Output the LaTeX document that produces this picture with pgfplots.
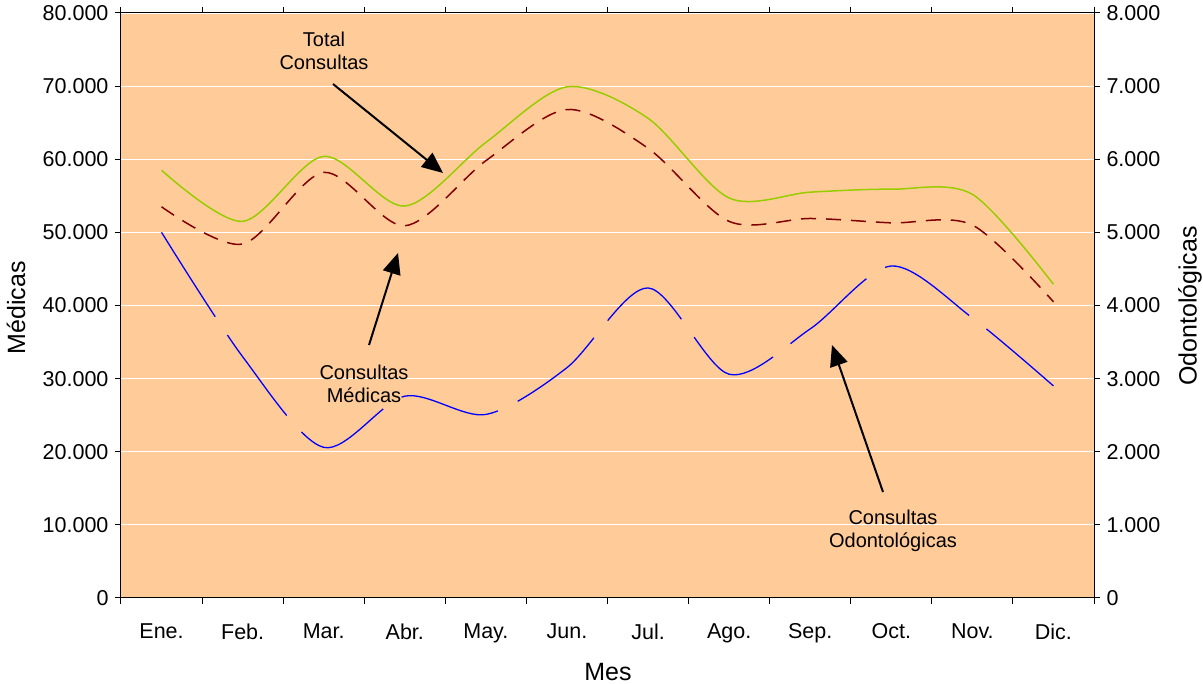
\documentclass[border=0pt]{standalone}
\usepackage{pgfplots}
\pgfplotsset{compat=1.18}
\usepackage{fontspec}
\setmainfont{Liberation Sans}
\usetikzlibrary{arrows.meta}
\definecolor{bgpeach}{RGB}{255,204,153}
\definecolor{totgreen}{RGB}{153,204,0}
\definecolor{medred}{RGB}{128,0,0}
\definecolor{odoblue}{RGB}{0,0,255}
\begin{document}
\begin{tikzpicture}[x=1pt,y=1pt]
\path[use as bounding box] (0,0) rectangle (1203,684);
\begin{axis}[
  at={(121pt,86pt)}, anchor=south west,
  width=973pt, height=585pt, scale only axis,
  xmin=-0.5, xmax=11.5, ymin=0, ymax=80000,
  axis background/.style={fill=bgpeach},
  axis line style={black, line width=1pt},
  tick style={black, line width=1pt},
  tick align=outside,
  major tick length=6pt, minor tick length=6pt,
  xtick={0,...,11},
  xticklabels={Ene.,Feb.,Mar.,Abr.,May.,Jun.,Jul.,Ago.,Sep.,Oct.,Nov.,Dic.},
  major x tick style={draw=none},
  minor xtick={-0.5,0.5,...,11.5},
  ytick={0,10000,...,80000},
  ymajorgrids, major grid style={white, line width=1.2pt},
  scaled y ticks=false,
  /pgf/number format/.cd, fixed, 1000 sep={.}, assume math mode=true,
  /pgfplots/.cd,
  tick label style={font=\fontsize{21.5}{25}\selectfont},
  xticklabel style={yshift=-16pt},
  yticklabel style={xshift=-3pt},
  clip=true,
]
\addplot[totgreen, line width=1.5pt, smooth] coordinates {
  (0,58500) (1,51500) (2,60400) (3,53600) (4,62300) (5,69900)
  (6,65600) (7,54700) (8,55500) (9,55900) (10,55200) (11,42900)};
\addplot[medred, line width=1.5pt, smooth, dash pattern=on 15pt off 10pt] coordinates {
  (0,53500) (1,48400) (2,58200) (3,50900) (4,59800) (5,66800)
  (6,61500) (7,51500) (8,51900) (9,51300) (10,51000) (11,40500)};
\end{axis}
\begin{axis}[
  at={(121pt,86pt)}, anchor=south west,
  width=973pt, height=585pt, scale only axis,
  xmin=-0.5, xmax=11.5, ymin=0, ymax=8000,
  axis x line=none, axis y line*=right,
  axis line style={black, line width=1pt},
  tick style={black, line width=1pt},
  tick align=outside, major tick length=6pt,
  ytick={0,1000,...,8000},
  scaled y ticks=false,
  /pgf/number format/.cd, fixed, 1000 sep={.}, assume math mode=true,
  /pgfplots/.cd,
  tick label style={font=\fontsize{21.5}{25}\selectfont},
  yticklabel style={xshift=3pt},
]
\addplot[odoblue, line width=1.3pt, smooth, dash pattern=on 100pt off 22pt] coordinates {
  (0,5000) (1,3300) (2,2060) (3,2760) (4,2510) (5,3150)
  (6,4240) (7,3060) (8,3680) (9,4540) (10,3830) (11,2900)};
\end{axis}
% annotations
\node[font=\fontsize{20}{23}\selectfont, align=center] at (324,633) {Total\\Consultas};
\draw[line width=2pt, -{Triangle[length=21pt,width=18pt]}] (333,600) -- (443,511);
\node[font=\fontsize{20}{23}\selectfont, align=center] at (364,300) {Consultas\\Médicas};
\draw[line width=2pt, -{Triangle[length=21pt,width=18pt]}] (369,339) -- (398,431);
\node[font=\fontsize{20}{23}\selectfont, align=center] at (893,153) {Consultas\\Odontológicas};
\draw[line width=2pt, -{Triangle[length=21pt,width=18pt]}] (883,192) -- (832,339);
% axis labels
\node[rotate=90, font=\fontsize{25}{30}\selectfont] at (16,376) {Médicas};
\node[rotate=90, font=\fontsize{25}{30}\selectfont] at (1190,378) {Odontológicas};
\node[font=\fontsize{25}{30}\selectfont] at (608,12) {Mes};
\end{tikzpicture}
\end{document}
